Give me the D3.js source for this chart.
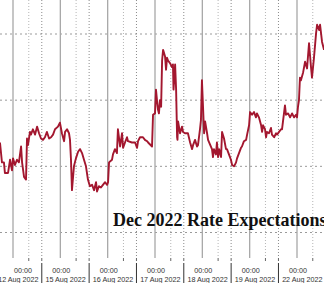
<!DOCTYPE html>
<html>
<head>
<meta charset="utf-8">
<script src="https://cdn.jsdelivr.net/npm/d3@7"></script>
<style>
  body { margin: 0; background: #fff; }
  svg { display: block; }
</style>
</head>
<body>
<div class="chart"></div>
<script>
// trading hours since 12 Aug 2022 00:00 (weekend removed, 24h per session day)
const hours = [
  -6.6, -5.6, -4.6, -4.1, -2.5, -1.5, -0.5, 0, 1.0, 2.0, 3.0, 4.1, 4.6, 5.6, 6.6, 7.1, 7.6, 8.6, 9.1, 10.1,
  11.2, 12.2, 13.2, 14.2, 15.2, 16.2, 17.2, 18.3, 19.3, 20.3, 21.3, 22.8, 23.8, 24.8, 25.9, 26.4, 27.4, 28.4, 28.9, 29.4,
  29.9, 30.9, 31.9, 33.0, 34.0, 35.0, 36.0, 37.0, 38.0, 39.0, 40.1, 41.1, 42.1, 42.6, 43.6, 44.6, 45.6, 46.7, 47.7, 48.2,
  48.7, 50.2, 50.7, 51.7, 52.7, 53.2, 54.3, 55.3, 55.8, 56.8, 57.8, 58.3, 60.3, 61.9, 62.9, 63.4, 64.4, 65.9, 66.9, 68.0,
  68.5, 70.5, 71.0, 72.0, 72.5, 73.0, 73.5, 74.0, 74.5, 75.1, 75.6, 76.1, 77.1, 77.6, 78.1, 78.6, 79.6, 80.6, 81.1, 81.4,
  82.2, 82.7, 83.2, 83.4, 83.7, 84.7, 85.7, 86.2, 87.2, 88.7, 89.8, 90.8, 91.3, 92.3, 93.3, 93.8, 94.8, 95.3, 95.8, 96.9,
  97.4, 98.4, 98.9, 100.9, 101.4, 101.9, 102.9, 103.4, 104.0, 104.5, 105.5, 106.0, 107.0, 108.0, 108.5, 109.5, 110.5, 111.1, 112.1, 113.1,
  113.6, 114.6, 115.6, 116.1, 117.1, 118.2, 118.7, 119.7, 120.2, 121.2, 122.2, 123.2, 123.7, 124.7, 125.8, 126.3, 126.8, 127.8, 128.3, 128.8,
  129.8, 130.8, 131.3, 132.4, 133.4, 133.9, 134.9, 135.9, 136.4, 137.4, 137.9, 138.4, 139.5, 140.5, 141.5, 142.5, 143.5, 144.0, 144.5, 145.0,
  145.5, 146.0, 147.1, 148.1, 149.1, 150.1, 151.1, 151.6, 152.6, 153.7, 154.2, 155.2, 155.7, 156.7, 157.7
]
// implied Dec 2022 rate, %
const rates = [
  3.668, 3.653, 3.653, 3.645, 3.645, 3.655, 3.647, 3.656, 3.651, 3.655, 3.653, 3.665, 3.653, 3.642, 3.640, 3.671, 3.666, 3.676, 3.674, 3.678,
  3.674, 3.680, 3.675, 3.671, 3.670, 3.672, 3.676, 3.671, 3.672, 3.674, 3.678, 3.680, 3.683, 3.675, 3.669, 3.676, 3.678, 3.675, 3.670, 3.655,
  3.632, 3.650, 3.656, 3.661, 3.663, 3.660, 3.655, 3.650, 3.640, 3.635, 3.636, 3.632, 3.638, 3.631, 3.635, 3.634, 3.636, 3.638, 3.636, 3.638,
  3.653, 3.655, 3.659, 3.663, 3.660, 3.678, 3.665, 3.675, 3.664, 3.668, 3.672, 3.669, 3.668, 3.668, 3.664, 3.669, 3.672, 3.672, 3.670, 3.669,
  3.668, 3.665, 3.689, 3.690, 3.708, 3.700, 3.693, 3.690, 3.700, 3.695, 3.730, 3.738, 3.733, 3.723, 3.732, 3.730, 3.728, 3.725, 3.727, 3.708,
  3.727, 3.708, 3.672, 3.670, 3.684, 3.675, 3.680, 3.676, 3.675, 3.675, 3.668, 3.663, 3.666, 3.670, 3.665, 3.666, 3.678, 3.685, 3.715, 3.675,
  3.684, 3.675, 3.670, 3.663, 3.657, 3.663, 3.659, 3.668, 3.657, 3.663, 3.657, 3.676, 3.671, 3.663, 3.663, 3.659, 3.655, 3.651, 3.650, 3.653,
  3.656, 3.660, 3.664, 3.665, 3.669, 3.670, 3.674, 3.681, 3.691, 3.689, 3.691, 3.687, 3.690, 3.687, 3.681, 3.676, 3.681, 3.678, 3.672, 3.676,
  3.675, 3.679, 3.674, 3.672, 3.675, 3.674, 3.676, 3.678, 3.678, 3.690, 3.696, 3.689, 3.690, 3.687, 3.690, 3.687, 3.689, 3.687, 3.695, 3.700,
  3.717, 3.715, 3.721, 3.729, 3.724, 3.743, 3.725, 3.717, 3.732, 3.751, 3.757, 3.753, 3.757, 3.744, 3.738
]
const dayLabels = ['12 Aug 2022', '15 Aug 2022', '16 Aug 2022', '17 Aug 2022', '18 Aug 2022', '19 Aug 2022', '22 Aug 2022']
const yTicks = [3.60, 3.65, 3.70, 3.75]
const title = 'Dec 2022 Rate Expectations'

const series = hours.map((h, i) => ({ h: h, v: rates[i] }))

const svg_width = 324
const svg_height = 283
const plot_bottom = 258

const svg = d3.select('.chart').append('svg')
  .attr('width', svg_width).attr('height', svg_height)
  .style('font-family', '"Liberation Sans", Arial, sans-serif')

// scales: one session day = 24 trading hours
const xScale = d3.scaleLinear().domain([0, 144]).range([13, 297])
const yScale = d3.scaleLinear().domain([3.60, 3.75]).range([232.5, 34])

const days = d3.range(dayLabels.length + 1)

// grid
const grid = svg.append('g').attr('class', 'grid')

grid.selectAll('.hgrid').data(yTicks).enter().append('line')
  .attr('x1', 0).attr('x2', svg_width)
  .attr('y1', d => yScale(d)).attr('y2', d => yScale(d))
  .style('stroke', '#9a9a9a').style('stroke-width', 1)
  .style('stroke-dasharray', '2,3')

// intraday dotted lines (morning / afternoon session)
const intraday = []
days.forEach(d => { intraday.push(d * 24 + 8); intraday.push(d * 24 + 14.6) })
grid.selectAll('.vdot').data(intraday).enter().append('line')
  .attr('x1', d => xScale(d)).attr('x2', d => xScale(d))
  .attr('y1', 0).attr('y2', plot_bottom)
  .style('stroke', (d, i) => i % 2 ? '#8a8a8a' : '#b5b5b5')
  .style('stroke-width', 1)
  .style('stroke-dasharray', '1,2')

grid.selectAll('.vday').data(days).enter().append('line')
  .attr('x1', d => xScale(d * 24)).attr('x2', d => xScale(d * 24))
  .attr('y1', 0).attr('y2', plot_bottom)
  .style('stroke', '#a8a8a8').style('stroke-width', 1.3)

// line
const lineGen = d3.line().x(d => xScale(d.h)).y(d => yScale(d.v))
svg.append('path')
  .datum(series)
  .attr('d', lineGen)
  .style('fill', 'none')
  .style('stroke', '#a3172f')
  .style('stroke-width', 1.9)
  .style('stroke-linejoin', 'round')

// title
svg.append('text')
  .attr('x', 113).attr('y', 226)
  .text(title)
  .style('font-family', '"Liberation Serif", "DejaVu Serif", serif')
  .style('font-weight', 'bold')
  .style('font-size', '18px')
  .style('fill', '#111')

// x axis
const axis = svg.append('g').attr('class', 'x axis')

axis.selectAll('.sep').data(d3.range(-1, dayLabels.length)).enter().append('line')
  .attr('x1', d => xScale(d * 24 + 14.6)).attr('x2', d => xScale(d * 24 + 14.6))
  .attr('y1', 263).attr('y2', svg_height)
  .style('stroke', '#333').style('stroke-width', 1)

axis.selectAll('.tick-mark').data(intraday).enter().append('line')
  .attr('x1', d => xScale(d)).attr('x2', d => xScale(d))
  .attr('y1', plot_bottom).attr('y2', plot_bottom + 3)
  .style('stroke', '#666').style('stroke-width', 1)

axis.selectAll('.hour-label').data(dayLabels).enter().append('text')
  // first label is pushed in from the left edge
  .attr('x', (d, i) => Math.max(xScale(i * 24) + 1, 23))
  .attr('y', 272.5)
  .attr('text-anchor', 'middle')
  .style('font-size', '7.2px').style('fill', '#333')
  .text('00:00')

axis.selectAll('.date-label').data(dayLabels).enter().append('text')
  .attr('x', (d, i) => xScale(i * 24 + 2.7))
  .attr('y', 281.5)
  .attr('text-anchor', 'middle')
  .style('font-size', '7.2px').style('fill', '#333')
  .text(d => d)
</script>
</body>
</html>
